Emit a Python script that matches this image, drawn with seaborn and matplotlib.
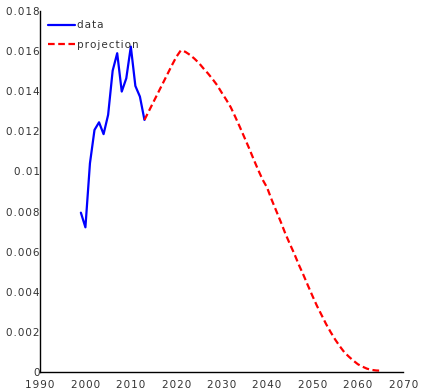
import numpy as np
import pandas as pd
import matplotlib
matplotlib.use("Agg")
import matplotlib.pyplot as plt
from matplotlib.ticker import FuncFormatter
import seaborn as sns

# Observed series
data_years = [1999, 2000, 2001, 2002, 2003, 2004, 2005, 2006, 2007,
              2008, 2009, 2010, 2011, 2012, 2013]
data_values = [0.00795, 0.00722, 0.01041, 0.01207, 0.01245, 0.01186, 0.01282,
               0.01502, 0.01589, 0.01398, 0.01464, 0.01622, 0.01426, 0.01373,
               0.01257]

# Projected series
proj_years = list(range(2013, 2066))
proj_values = [0.01257, 0.01302, 0.01347, 0.01392, 0.01437, 0.01482, 0.01527,
               0.01570, 0.01603, 0.01596, 0.01581, 0.01562, 0.01540, 0.01513,
               0.01488, 0.01460, 0.01430, 0.01393, 0.01358, 0.01320, 0.01272,
               0.01222, 0.01170, 0.01118, 0.01063, 0.01010, 0.00960, 0.00920,
               0.00860, 0.00805, 0.00750, 0.00692, 0.00640, 0.00590, 0.00535,
               0.00485, 0.00432, 0.00380, 0.00330, 0.00285, 0.00240, 0.00200,
               0.00163, 0.00130, 0.00100, 0.00078, 0.00058, 0.00040, 0.00028,
               0.00018, 0.00012, 0.00009, 0.00008]

x_ticks = [1990, 2000, 2010, 2020, 2030, 2040, 2050, 2060, 2070]
y_ticks = [0, 0.002, 0.004, 0.006, 0.008, 0.01, 0.012, 0.014, 0.016, 0.018]


def spaced(s):
    # widen the tracking a little with hair spaces between characters
    return "\u200a".join(s)


df_data = pd.DataFrame({"year": data_years, "value": data_values})
df_proj = pd.DataFrame({"year": proj_years, "value": proj_values})

sns.set_style("white")
plt.rcParams["font.family"] = ["DejaVu Sans"]
text_color = "#333333"

fig = plt.figure(figsize=(4.21, 3.92), dpi=100)
ax = fig.add_axes([0.095, 0.0503, 0.863, 0.922])

sns.lineplot(data=df_data, x="year", y="value", ax=ax, color="#0000ff",
             linewidth=1.6, label=spaced("data"))
sns.lineplot(data=df_proj, x="year", y="value", ax=ax, color="#ff0000",
             linewidth=1.6, linestyle=(0, (3, 1.6)),
             label=spaced("projection"))

ax.set_xlim(1990, 2070)
ax.set_ylim(0, 0.018)
ax.set_xticks(x_ticks)
ax.set_yticks(y_ticks)
ax.xaxis.set_major_formatter(FuncFormatter(lambda v, p: spaced("%d" % v)))
ax.yaxis.set_major_formatter(FuncFormatter(lambda v, p: spaced("%g" % v)))
ax.set_xlabel("")
ax.set_ylabel("")

for side in ("top", "right"):
    ax.spines[side].set_visible(False)
for side in ("left", "bottom"):
    ax.spines[side].set_color("black")
    ax.spines[side].set_linewidth(1.0)

ax.tick_params(axis="both", direction="in", length=3.5, width=0.8,
               colors="black", labelcolor=text_color, labelsize=7.5)
ax.tick_params(axis="y", pad=0.3)
ax.tick_params(axis="x", pad=5.5)

leg = ax.legend(loc="upper left", bbox_to_anchor=(0.0, 0.997), frameon=False,
                fontsize=7.5, handlelength=2.6, handletextpad=0.15,
                labelspacing=0.9, borderaxespad=0.4)
for t in leg.get_texts():
    t.set_color(text_color)

fig.savefig("out.png", dpi=100)
